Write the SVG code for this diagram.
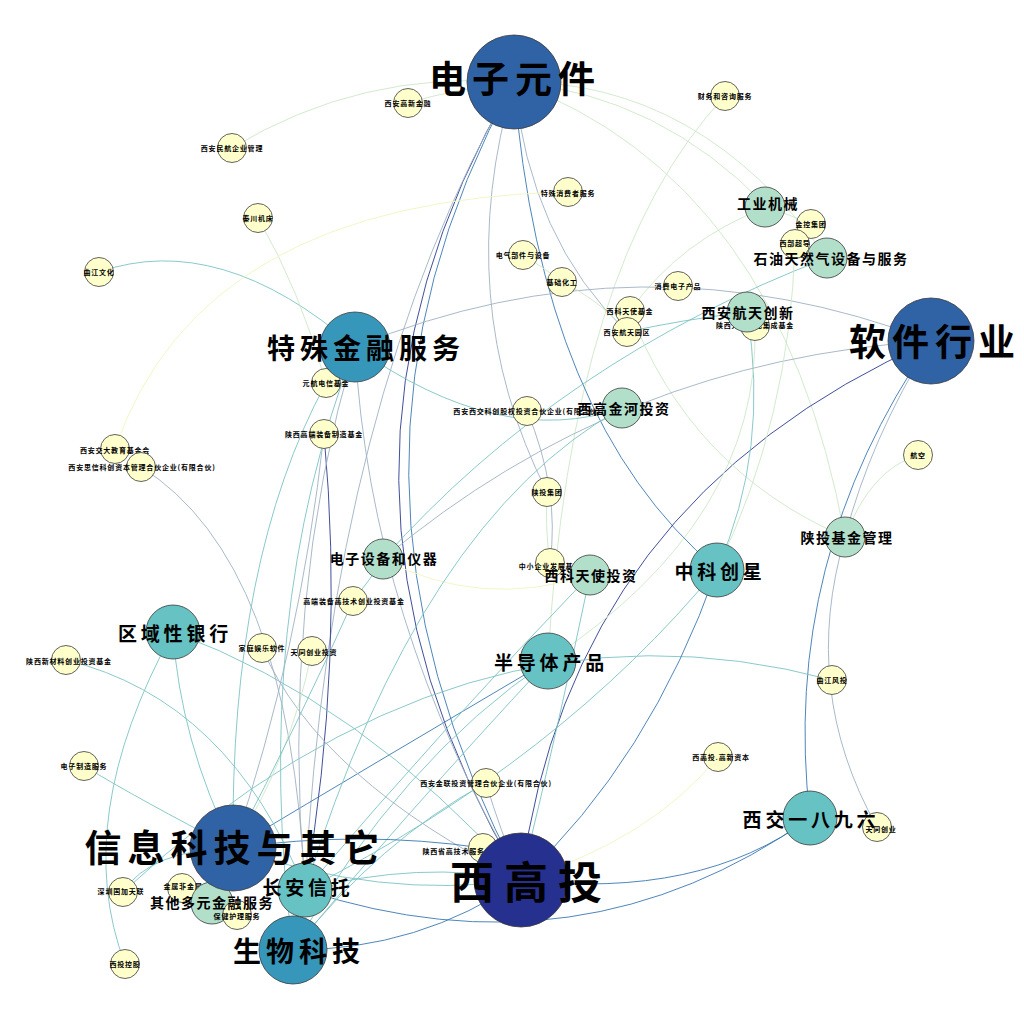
<svg xmlns="http://www.w3.org/2000/svg" width="1024" height="1024" viewBox="0 0 1024 1024">
<style>
.e{fill:none;stroke-width:0.9}
.navy{stroke:#2b3a8f}
.blue{stroke:#3a78b2}
.teal{stroke:#7cc3c4}
.gray{stroke:#9fb1c2}
.green{stroke:#cde8c8}
.yellow{stroke:#f1f5c0}
circle{stroke:#3a3a3a;stroke-width:0.8}
.cy{fill:#ffffcc}
.cg{fill:#b2dfca}
.ct{fill:#66c2c3}
.cm{fill:#3797bb}
.cb{fill:#3063a6}
.cn{fill:#26308e}
text{font-family:"Noto Sans CJK SC","Noto Sans CJK JP",sans-serif;font-weight:700;fill:#000;text-anchor:middle;dominant-baseline:central}
.ts{font-size:7px;letter-spacing:0.8px}
.tg{font-size:14px;letter-spacing:1.5px}
.tt{font-size:19px;letter-spacing:3.8px}
.tm{font-size:28px;letter-spacing:5px}
.tb{font-size:37px;letter-spacing:6px}
.tn{font-size:44px;letter-spacing:10px}
</style>
<rect width="1024" height="1024" fill="#ffffff"/>
<g id="connectors">
<path class="e green" d="M232 148 Q360 70 514 82"/>
<path class="e green" d="M408 103 Q450 90 514 82"/>
<path class="e green" d="M514 82 Q660 95 767 207"/>
<path class="e green" d="M514 82 Q700 80 827 258"/>
<path class="e green" d="M725 96 Q570 260 548 661"/>
<path class="e green" d="M767 207 Q680 240 630 311"/>
<path class="e gray" d="M514 82 Q530 240 627 332"/>
<path class="e blue" d="M514 82 Q540 420 717 569"/>
<path class="e gray" d="M514 82 Q450 300 547 492"/>
<path class="e navy" d="M514 82 Q280 480 521 880"/>
<path class="e blue" d="M514 82 Q300 470 521 880"/>
<path class="e gray" d="M514 82 Q330 400 305 890"/>
<path class="e green" d="M514 82 Q780 180 845 537"/>
<path class="e teal" d="M99 272 Q220 230 355 347"/>
<path class="e green" d="M258 218 Q300 290 326 383"/>
<path class="e yellow" d="M115 449 Q200 200 568 192"/>
<path class="e gray" d="M141 467 Q290 560 305 890"/>
<path class="e teal" d="M326 383 Q230 560 233 848"/>
<path class="e navy" d="M324 434 Q345 660 305 890"/>
<path class="e gray" d="M324 434 Q300 650 233 848"/>
<path class="e teal" d="M355 347 Q500 450 622 408"/>
<path class="e gray" d="M355 347 Q640 230 931 341"/>
<path class="e teal" d="M827 258 Q560 360 383 559"/>
<path class="e navy" d="M931 341 Q570 500 521 880"/>
<path class="e blue" d="M931 341 Q780 560 810 818"/>
<path class="e gray" d="M931 341 Q870 440 845 537"/>
<path class="e gray" d="M845 537 Q800 690 877 827"/>
<path class="e green" d="M918 455 Q870 470 845 537"/>
<path class="e teal" d="M832 680 Q460 580 123 892"/>
<path class="e yellow" d="M718 757 Q650 840 521 880"/>
<path class="e blue" d="M810 818 Q700 900 521 880"/>
<path class="e blue" d="M810 818 Q580 980 305 890"/>
<path class="e green" d="M630 311 Q690 470 845 537"/>
<path class="e teal" d="M747 312 Q770 450 717 569"/>
<path class="e green" d="M755 326 Q760 520 548 661"/>
<path class="e teal" d="M717 569 Q560 760 305 890"/>
<path class="e blue" d="M717 569 Q650 760 521 880"/>
<path class="e blue" d="M548 661 Q380 760 233 848"/>
<path class="e teal" d="M548 661 Q400 820 293 950"/>
<path class="e teal" d="M66 660 Q230 700 305 890"/>
<path class="e teal" d="M173 632 Q180 740 233 848"/>
<path class="e teal" d="M173 632 Q70 820 125 964"/>
<path class="e teal" d="M173 632 Q360 700 521 880"/>
<path class="e teal" d="M84 766 Q140 800 233 848"/>
<path class="e teal" d="M123 892 Q150 850 233 848"/>
<path class="e gray" d="M262 648 Q320 780 521 880"/>
<path class="e green" d="M312 651 Q290 760 233 848"/>
<path class="e teal" d="M353 601 Q370 580 383 559"/>
<path class="e teal" d="M353 601 Q300 720 233 848"/>
<path class="e yellow" d="M383 559 Q480 610 590 575"/>
<path class="e gray" d="M383 559 Q620 360 931 341"/>
<path class="e teal" d="M622 408 Q420 520 305 890"/>
<path class="e teal" d="M305 890 Q420 860 521 880"/>
<path class="e blue" d="M293 950 Q420 950 521 880"/>
<path class="e teal" d="M293 950 Q400 760 548 661"/>
<path class="e teal" d="M233 848 Q380 900 521 880"/>
<path class="e blue" d="M483 848 Q360 830 233 848"/>
<path class="e teal" d="M486 783 Q380 840 293 950"/>
<path class="e teal" d="M590 575 Q560 720 521 880"/>
<path class="e teal" d="M590 575 Q450 720 305 890"/>
<path class="e gray" d="M527 411 Q560 490 550 563"/>
<path class="e gray" d="M355 347 Q280 600 305 890"/>
<path class="e teal" d="M355 347 Q250 620 293 950"/>
<path class="e gray" d="M355 347 Q370 620 521 880"/>
<path class="e green" d="M523 255 Q540 265 562 282"/>
<path class="e green" d="M562 282 Q600 300 627 332"/>
<path class="e green" d="M811 224 Q790 215 767 207"/>
<path class="e green" d="M795 244 Q790 420 717 569"/>
<path class="e green" d="M547 492 Q545 530 550 563"/>
<path class="e gray" d="M486 783 Q500 830 521 880"/>
<path class="e teal" d="M627 332 Q680 320 747 312"/>
</g>
<g id="n-y1"><circle class="cy" cx="408" cy="103" r="14.5"/><text class="ts" x="408" y="103">西安高新金融</text></g>
<g id="n-y2"><circle class="cy" cx="232" cy="148" r="14.5"/><text class="ts" x="232" y="148">西安民航企业管理</text></g>
<g id="n-y3"><circle class="cy" cx="258" cy="218" r="14.5"/><text class="ts" x="258" y="218">秦川机床</text></g>
<g id="n-y4"><circle class="cy" cx="99" cy="272" r="14.5"/><text class="ts" x="99" y="272">曲江文化</text></g>
<g id="n-y5"><circle class="cy" cx="725" cy="96" r="14.5"/><text class="ts" x="725" y="96">财务和咨询服务</text></g>
<g id="n-y6"><circle class="cy" cx="568" cy="192" r="14.5"/><text class="ts" x="568" y="193">特殊消费者服务</text></g>
<g id="n-y7"><circle class="cy" cx="523" cy="255" r="14.5"/><text class="ts" x="523" y="255">电气部件与设备</text></g>
<g id="n-y8"><circle class="cy" cx="562" cy="282" r="14.5"/><text class="ts" x="562" y="282">基础化工</text></g>
<g id="n-y9"><circle class="cy" cx="678" cy="286" r="14.5"/><text class="ts" x="678" y="286">消费电子产品</text></g>
<g id="n-y10"><circle class="cy" cx="630" cy="311" r="14.5"/><text class="ts" x="630" y="311">西科天使基金</text></g>
<g id="n-y11"><circle class="cy" cx="627" cy="332" r="14.5"/><text class="ts" x="627" y="332">西安航天园区</text></g>
<g id="n-y12"><circle class="cy" cx="755" cy="326" r="14.5"/><text class="ts" x="755" y="325">陕西光子光电集成基金</text></g>
<g id="n-y13"><circle class="cy" cx="811" cy="224" r="14.5"/><text class="ts" x="811" y="224">金控集团</text></g>
<g id="n-y14"><circle class="cy" cx="795" cy="244" r="14.5"/><text class="ts" x="795" y="243">西部超导</text></g>
<g id="n-y15"><circle class="cy" cx="326" cy="383" r="14.5"/><text class="ts" x="326" y="383">元航电信基金</text></g>
<g id="n-y16"><circle class="cy" cx="324" cy="434" r="14.5"/><text class="ts" x="324" y="434">陕西高端装备制造基金</text></g>
<g id="n-y17"><circle class="cy" cx="115" cy="449" r="14.5"/><text class="ts" x="115" y="450">西安交大教育基金会</text></g>
<g id="n-y18"><circle class="cy" cx="141" cy="467" r="14.5"/><text class="ts" x="142" y="467">西安思信科创资本管理合伙企业(有限合伙)</text></g>
<g id="n-y19"><circle class="cy" cx="527" cy="411" r="14.5"/><text class="ts" x="527" y="411">西安西交科创股权投资合伙企业(有限合伙)</text></g>
<g id="n-y20"><circle class="cy" cx="547" cy="492" r="14.5"/><text class="ts" x="547" y="492">陕投集团</text></g>
<g id="n-y21"><circle class="cy" cx="550" cy="563" r="14.5"/><text class="ts" x="550" y="566">中小企业发展基金</text></g>
<g id="n-y22"><circle class="cy" cx="918" cy="455" r="14.5"/><text class="ts" x="918" y="455">航空</text></g>
<g id="n-y23"><circle class="cy" cx="832" cy="680" r="14.5"/><text class="ts" x="832" y="680">曲江风投</text></g>
<g id="n-y24"><circle class="cy" cx="718" cy="757" r="14.5"/><text class="ts" x="721" y="757">西高投.高新资本</text></g>
<g id="n-y25"><circle class="cy" cx="877" cy="827" r="14.5"/><text class="ts" x="881" y="829">天同创业</text></g>
<g id="n-y26"><circle class="cy" cx="66" cy="660" r="14.5"/><text class="ts" x="69" y="661">陕西新材料创业投资基金</text></g>
<g id="n-y27"><circle class="cy" cx="262" cy="648" r="14.5"/><text class="ts" x="262" y="648">家庭娱乐软件</text></g>
<g id="n-y28"><circle class="cy" cx="312" cy="651" r="14.5"/><text class="ts" x="314" y="652">天同创业投资</text></g>
<g id="n-y29"><circle class="cy" cx="353" cy="601" r="14.5"/><text class="ts" x="354" y="601">高端装备高技术创业投资基金</text></g>
<g id="n-y30"><circle class="cy" cx="84" cy="766" r="14.5"/><text class="ts" x="84" y="766">电子制造服务</text></g>
<g id="n-y31"><circle class="cy" cx="486" cy="783" r="14.5"/><text class="ts" x="486" y="783">西安金联投资管理合伙企业(有限合伙)</text></g>
<g id="n-y32"><circle class="cy" cx="483" cy="848" r="14.5"/><text class="ts" x="477" y="851">陕西省高技术服务创业投资基金</text></g>
<g id="n-y33"><circle class="cy" cx="123" cy="892" r="14.5"/><text class="ts" x="121" y="891">深圳国加天联</text></g>
<g id="n-y34"><circle class="cy" cx="182" cy="888" r="14.5"/><text class="ts" x="183" y="886">金属非金属</text></g>
<g id="n-y36"><circle class="cy" cx="125" cy="964" r="14.5"/><text class="ts" x="125" y="964">西投控股</text></g>
<g id="n-g1"><circle class="cg" cx="765" cy="207" r="20"/><text class="tg" x="768" y="203">工业机械</text></g>
<g id="n-g2"><circle class="cg" cx="827" cy="258" r="20"/><text class="tg" x="831" y="258">石油天然气设备与服务</text></g>
<g id="n-g3"><circle class="cg" cx="747" cy="312" r="20"/><text class="tg" x="748" y="312">西安航天创新</text></g>
<g id="n-g4"><circle class="cg" cx="622" cy="408" r="20"/><text class="tg" x="624" y="408">西高金河投资</text></g>
<g id="n-g5"><circle class="cg" cx="383" cy="559" r="20"/><text class="tg" x="384" y="558">电子设备和仪器</text></g>
<g id="n-g6"><circle class="cg" cx="590" cy="575" r="20"/><text class="tg" x="591" y="575">西科天使投资</text></g>
<g id="n-g7"><circle class="cg" cx="845" cy="537" r="20"/><text class="tg" x="847" y="537">陕投基金管理</text></g>
<g id="n-g8"><circle class="cg" cx="212" cy="903" r="21"/><g id="n-y35"><circle class="cy" cx="237" cy="915" r="14.5"/><text class="ts" x="237" y="916">保健护理服务</text></g><text class="tg" x="212" y="902">其他多元金融服务</text></g>
<g id="n-t1"><circle class="ct" cx="173" cy="632" r="27"/><text class="tt" x="175" y="632">区域性银行</text></g>
<g id="n-t2"><circle class="ct" cx="548" cy="661" r="28"/><text class="tt" x="551" y="661">半导体产品</text></g>
<g id="n-t3"><circle class="ct" cx="717" cy="570" r="27"/><text class="tt" x="720" y="570">中科创星</text></g>
<g id="n-t4"><circle class="ct" cx="810" cy="818" r="27"/><text class="tt" x="811" y="818">西交一八九六</text></g>
<g id="n-t5"><circle class="ct" cx="305" cy="890" r="27"/><text class="tt" x="308" y="886">长安信托</text></g>
<g id="n-m1"><circle class="cm" cx="355" cy="347" r="35"/><text class="tm" x="366" y="347">特殊金融服务</text></g>
<g id="n-m2"><circle class="cm" cx="293" cy="950" r="34"/><text class="tm" x="299" y="950">生物科技</text></g>
<g id="n-b1"><circle class="cb" cx="514" cy="82" r="47"/><text class="tb" x="515" y="77">电子元件</text></g>
<g id="n-b2"><circle class="cb" cx="931" cy="341" r="43"/><text class="tb" x="935" y="340">软件行业</text></g>
<g id="n-b3"><circle class="cb" cx="233" cy="848" r="43"/><text class="tb" x="235" y="846">信息科技与其它</text></g>
<g id="n-b4"><circle class="cn" cx="521" cy="880" r="47"/><text class="tn" x="531" y="880">西高投</text></g>
</svg>
